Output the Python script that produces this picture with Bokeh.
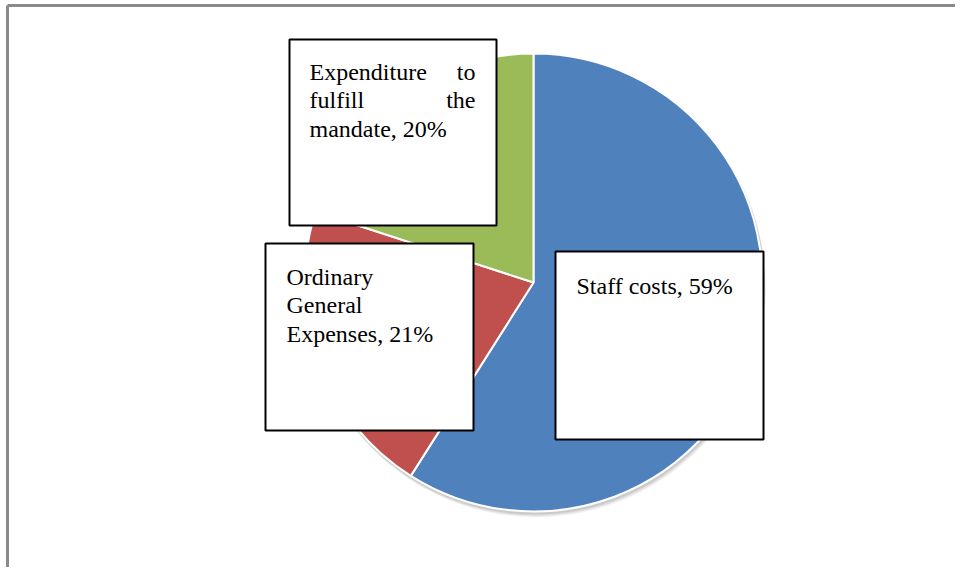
import numpy as np
from bokeh.plotting import figure
from bokeh.models import Range1d
from bokeh.core.properties import value
from bokeh.embed import file_html
from bokeh.resources import INLINE

# ---- data ----
categories = ["Staff costs", "Ordinary General Expenses", "Expenditure to fulfill the mandate"]
shares = [59, 21, 20]
colors = ["#4F81BD", "#C0504D", "#9BBB59"]

# ---- layout helpers (image pixel coords -> data coords, 1:1) ----
def iy(y):
    return 573 - y

p = figure(width=955, height=567, x_range=Range1d(0, 955), y_range=Range1d(6, 573),
           output_backend="svg", toolbar_location=None, min_border=0,
           x_axis_location=None, y_axis_location=None)
p.grid.visible = False
p.outline_line_color = None
p.background_fill_color = "white"
p.border_fill_color = "white"

# outer frame (left and top edges visible in reference)
p.segment(x0=[7, 7], y0=[iy(580), iy(5)], x1=[7, 970], y1=[iy(5), iy(5)],
          line_color="#8a8a8a", line_width=3)

cx, cy, R = 533, iy(282), 229

# soft shadow
for k, a in [(5, 0.04), (4, 0.05), (3, 0.06), (2, 0.07)]:
    p.circle(x=cx + k * 0.5, y=cy - k, radius=R + 1, fill_color="black", fill_alpha=a, line_color=None)

tot = float(sum(shares))
cum = np.concatenate([[0.0], np.cumsum(shares)]) / tot
start = np.pi / 2 - cum[:-1] * 2 * np.pi
end = np.pi / 2 - cum[1:] * 2 * np.pi
p.wedge(x=cx, y=cy, radius=R, start_angle=start, end_angle=end, direction="clock",
        fill_color=colors, line_color="white", line_width=2)

# label boxes (image pixel coords): left, right, top, bottom
boxes = {
    "Expenditure to fulfill the mandate": (289, 496, 39, 225),
    "Ordinary General Expenses": (265, 473, 243, 430),
    "Staff costs": (555, 763, 251, 439),
}
p.quad(left=[b[0] for b in boxes.values()], right=[b[1] for b in boxes.values()],
       top=[iy(b[2]) for b in boxes.values()], bottom=[iy(b[3]) for b in boxes.values()],
       fill_color="white", line_color="black", line_width=2)

labels = {c: f"{c}, {v}%" for c, v in zip(categories, shares)}
# line wrapping (word counts per line), justified lines flagged
wraps = {
    "Expenditure to fulfill the mandate": ([2, 2, 3], [True, True, False], 309, 475, 71),
    "Ordinary General Expenses": ([1, 1, 2], [False, False, False], 286, 452, 276),
    "Staff costs": ([4], [False], 576, 740, 285),
}
FS = "24px"
LH = 28.7
lx, ly, ltxt, rx, ry, rtxt = [], [], [], [], [], []
for c in categories:
    words = labels[c].split(" ")
    counts, just, x0, x1, base = wraps[c]
    i = 0
    for li, (n, j) in enumerate(zip(counts, just)):
        seg = words[i:i + n]
        i += n
        yb = iy(base + li * LH)
        if j and len(seg) > 1:
            lx.append(x0); ly.append(yb); ltxt.append(" ".join(seg[:-1]))
            rx.append(x1); ry.append(yb); rtxt.append(seg[-1])
        else:
            lx.append(x0); ly.append(yb); ltxt.append(" ".join(seg))

p.text(x=lx, y=ly, text=ltxt, text_font=value("Liberation Serif"), text_font_size=FS,
       text_color="black", text_align="left", text_baseline="alphabetic")
p.text(x=rx, y=ry, text=rtxt, text_font=value("Liberation Serif"), text_font_size=FS,
       text_color="black", text_align="right", text_baseline="alphabetic")

open("out.html", "w").write(file_html(p, INLINE))
